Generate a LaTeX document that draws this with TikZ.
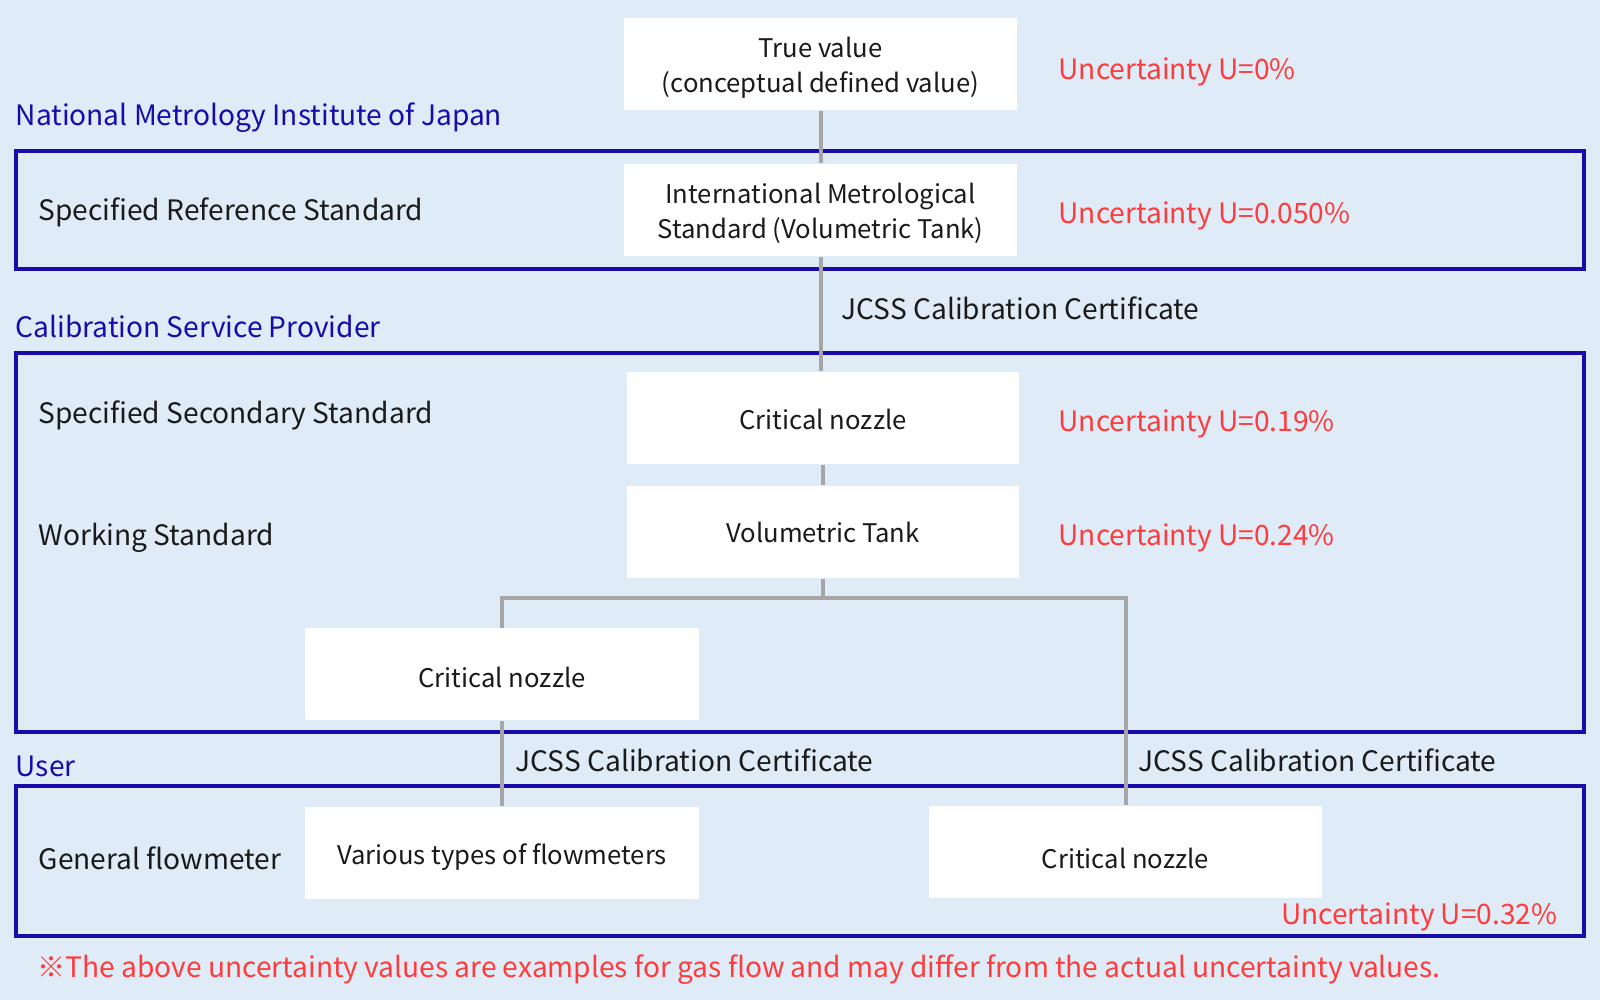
\documentclass[tikz,border=0pt]{standalone}
\usepackage{fontspec}
\setmainfont{Noto Sans CJK JP}
\usepackage{xcolor}
\usepackage{tikz}
\usetikzlibrary{positioning, calc}

\definecolor{bgblue}{HTML}{DFEBF7}
\definecolor{frameblue}{HTML}{1A0AAA}
\definecolor{uncred}{HTML}{FF3B3B}
\definecolor{linegray}{HTML}{A6A6A6}
\definecolor{txtblack}{HTML}{1A1A1A}
\newcommand{\boxtext}[2][1.1pt]{\raisebox{-#1}[\height][\depth]{\begin{tabular}{@{}c@{}}#2\end{tabular}}}

\begin{document}
\begin{tikzpicture}[x=1cm, y=-1cm,
		font=\fontsize{8}{10}\selectfont, text=txtblack,
		stdbox/.style={fill=white, minimum width=3.93cm, minimum height=0.92cm, inner sep=0pt, font=\fontsize{7.3}{10}\selectfont},
		orglabel/.style={anchor=west, text=frameblue, inner sep=0pt},
		levellabel/.style={anchor=west, inner sep=0pt},
		unclabel/.style={anchor=west, text=uncred, inner sep=0pt},
		certlabel/.style={anchor=west, inner sep=0pt},
		orgframe/.style={draw=frameblue, line width=1.13pt},
		trace/.style={draw=linegray, line width=1.13pt}]
				\fill[bgblue] (0,0) rectangle (16,10);
				\useasboundingbox (0,0) rectangle (16,10);
				\draw[orgframe] (0.16,1.51) rectangle (15.84,2.69);
				\draw[orgframe] (0.16,3.53) rectangle (15.84,7.32);
				\draw[orgframe] (0.16,7.86) rectangle (15.84,9.36);
				\node[orglabel] (nmij) at (0.15,1.18) {National Metrology Institute of Japan};
				\node[orglabel] (csp) at (0.15,3.26) {Calibration Service Provider};
				\node[orglabel] (user) at (0.15,7.66) {User};
				\node[levellabel] (spref) at (0.38,2.12) {Specified Reference Standard};
				\node[levellabel] (spsec) at (0.38,4.15) {Specified Secondary Standard};
				\node[levellabel] (workstd) at (0.38,5.38) {Working Standard};
				\node[levellabel] (genfm) at (0.38,8.58) {General flowmeter};
				\node[stdbox] (truev) at (8.205,0.64) {\boxtext{True value\\(conceptual defined value)}};
				\node[stdbox] (intl) at (8.205,2.10) {\boxtext{International Metrological\\Standard (Volumetric Tank)}};
				\node[stdbox, minimum width=3.92cm] (critA) at (8.23,4.18) {\boxtext[1.2pt]{Critical nozzle}};
				\node[stdbox, minimum width=3.92cm] (voltank) at (8.23,5.32) {\boxtext[0.9pt]{Volumetric Tank}};
				\node[stdbox, minimum width=3.94cm] (critB) at (5.02,6.745) {\boxtext[1.7pt]{Critical nozzle}};
				\node[stdbox, minimum width=3.94cm] (various) at (5.02,8.53) {\boxtext[1.4pt]{Various types of flowmeters}};
				\node[stdbox] (critC) at (11.255,8.52) {\boxtext[2.6pt]{Critical nozzle}};
				\node[unclabel] (unc0) at (10.58,0.72) {Uncertainty U=0\%};
				\node[unclabel] (unc1) at (10.58,2.16) {Uncertainty U=0.050\%};
				\node[unclabel] (unc2) at (10.58,4.24) {Uncertainty U=0.19\%};
				\node[unclabel] (unc3) at (10.58,5.38) {Uncertainty U=0.24\%};
				\node[anchor=east, text=uncred, inner sep=0pt] (unc4) at (15.58,9.17) {Uncertainty U=0.32\%};
				\node[certlabel] (certA) at (8.41,3.08) {JCSS Calibration Certificate};
				\node[certlabel] (certB) at (5.15,7.60) {JCSS Calibration Certificate};
				\node[certlabel] (certC) at (11.38,7.60) {JCSS Calibration Certificate};
				\node[anchor=west, text=uncred, inner sep=0pt] (note) at (0.37,9.70) {※The above uncertainty values are examples for gas flow and may differ from the actual uncertainty values.};
				\draw[trace] (truev.south) -- (intl.north);
				\draw[trace] (intl.south) -- (intl.south |- critA.north);
				\draw[trace] (critA.south) -- (voltank.north);
				\draw[trace] (voltank.south) -- ++(0,0.19) coordinate (junction);
				\draw[trace] (critB.north) |- (junction) -| (critC.north);
				\draw[trace] (critB.south) -- (various.north);
\end{tikzpicture}
\end{document}
